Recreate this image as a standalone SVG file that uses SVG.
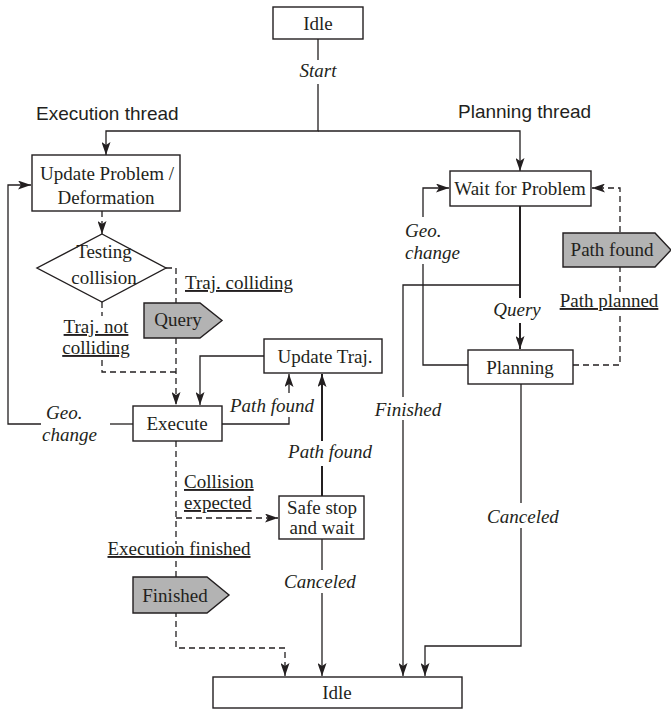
<svg xmlns="http://www.w3.org/2000/svg" width="671" height="713" viewBox="0 0 671 713">
<style>
text{font-family:"Liberation Serif","Times New Roman",serif;font-size:19px;fill:#231f20}
.sans{font-family:"Liberation Sans",Arial,sans-serif}
.it{font-style:italic}
.u{text-decoration:underline}
.m{text-anchor:middle}
.box{fill:#fff;stroke:#231f20;stroke-width:1.4}
.sig{fill:#b3b3b3;stroke:#231f20;stroke-width:1.4}
.ln{fill:none;stroke:#231f20;stroke-width:1.3}
.thk{stroke-width:2}
.dash{stroke-dasharray:6 4}
</style>
<defs>
<marker id="ah" viewBox="0 0 13 9" refX="13" refY="4.5" markerWidth="13" markerHeight="9" markerUnits="userSpaceOnUse" orient="auto">
<path d="M0,0 L13,4.5 L0,9 L3,4.5 z" fill="#231f20"/>
</marker>
</defs>

<g id="connectors">
<path class="ln" d="M318,39 V60"/>
<path class="ln" d="M318,84 V131 H106 V155" marker-end="url(#ah)"/>
<path class="ln" d="M318,131 H520 V171" marker-end="url(#ah)"/>
<path class="ln dash" d="M102,211 V234" marker-end="url(#ah)"/>
<path class="ln dash" d="M166,268 H176 V405" marker-end="url(#ah)"/>
<path class="ln dash" d="M102,302 V316"/>
<path class="ln dash" d="M102,360 V372 H176"/>
<path class="ln" d="M222,424 H289 V417"/>
<path class="ln" d="M289,393 V374" marker-end="url(#ah)"/>
<path class="ln" d="M264,356 H200 V405" marker-end="url(#ah)"/>
<path class="ln thk" d="M322,496 V466"/>
<path class="ln thk" d="M322,441 V374" marker-end="url(#ah)"/>
<path class="ln dash" d="M176,518 H278" marker-end="url(#ah)"/>
<path class="ln dash" d="M176,441 V544"/>
<path class="ln dash" d="M176,561 V648 H285 V676" marker-end="url(#ah)"/>
<path class="ln" d="M133,424 H110"/>
<path class="ln" d="M41,424 H8 V185 H31" marker-end="url(#ah)"/>
<path class="ln" d="M322,539 V570"/>
<path class="ln" d="M322,593 V676" marker-end="url(#ah)"/>
<path class="ln thk" d="M520,206 V298"/>
<path class="ln thk" d="M520,323 V349" marker-end="url(#ah)"/>
<path class="ln" d="M520,285 H403 V397"/>
<path class="ln" d="M403,420 V676" marker-end="url(#ah)"/>
<path class="ln" d="M468,365 H423 V264"/>
<path class="ln" d="M423,217 V188 H449" marker-end="url(#ah)"/>
<path class="ln dash" d="M573,365 H620 V314"/>
<path class="ln dash" d="M620,292 V188 H592" marker-end="url(#ah)"/>
<path class="ln" d="M521,384 V503"/>
<path class="ln" d="M521,528 V646 H425 V676" marker-end="url(#ah)"/>
</g>

<g id="labels">
<text class="sans" x="36" y="120">Execution thread</text>
<text class="sans" x="458" y="118">Planning thread</text>
<text class="it m" x="318" y="77">Start</text>
<text class="u" x="185" y="289">Traj. colliding</text>
<text class="u m" x="96" y="333">Traj. not</text>
<text class="u m" x="96" y="354">colliding</text>
<text class="it" x="230" y="412">Path found</text>
<text class="it m" x="330" y="458">Path found</text>
<text class="u" x="184" y="488">Collision</text>
<text class="u" x="184" y="509">expected</text>
<text class="u m" x="179" y="555">Execution finished</text>
<text class="it" x="46" y="419">Geo.</text>
<text class="it" x="42" y="441">change</text>
<text class="it m" x="320" y="588">Canceled</text>
<text class="it" x="405" y="237">Geo.</text>
<text class="it" x="405" y="259">change</text>
<text class="it m" x="517" y="316">Query</text>
<text class="it m" x="408" y="416">Finished</text>
<text class="u m" x="609" y="307">Path planned</text>
<text class="it m" x="523" y="523">Canceled</text>
</g>

<g id="idle-top"><rect class="box" x="273" y="7" width="90" height="32"/><text class="m" x="318" y="30">Idle</text></g>
<g id="update-problem"><rect class="box" x="32" y="155" width="148" height="56"/><text class="m" x="107" y="180">Update Problem /</text><text class="m" x="106" y="204">Deformation</text></g>
<g id="testing-collision"><polygon class="box" points="102,234 166,268 102,302 37,268"/><text class="m" x="104" y="258">Testing</text><text class="m" x="104" y="284">collision</text></g>
<g id="query-signal"><polygon class="sig" points="144,303 200,303 222,320.5 200,338 144,338"/><text class="m" x="178" y="326">Query</text></g>
<g id="execute"><rect class="box" x="133" y="406" width="89" height="35"/><text class="m" x="177" y="430">Execute</text></g>
<g id="update-traj"><rect class="box" x="264" y="339" width="118" height="34"/><text class="m" x="325" y="363">Update Traj.</text></g>
<g id="safe-stop"><rect class="box" x="279" y="496" width="85" height="43"/><text class="m" x="322" y="514">Safe stop</text><text class="m" x="322" y="534">and wait</text></g>
<g id="finished-signal"><polygon class="sig" points="133,577 207,577 229,595 207,613 133,613"/><text class="m" x="175" y="602">Finished</text></g>
<g id="wait-problem"><rect class="box" x="450" y="171" width="141" height="35"/><text class="m" x="520" y="195">Wait for Problem</text></g>
<g id="path-found-signal"><polygon class="sig" points="563,233 655,233 671,250 655,267 563,267"/><text class="m" x="612" y="256">Path found</text></g>
<g id="planning"><rect class="box" x="468" y="350" width="105" height="34"/><text class="m" x="520" y="374">Planning</text></g>
<g id="idle-bottom"><rect class="box" x="213" y="677" width="249" height="31"/><text class="m" x="337" y="699">Idle</text></g>
</svg>
